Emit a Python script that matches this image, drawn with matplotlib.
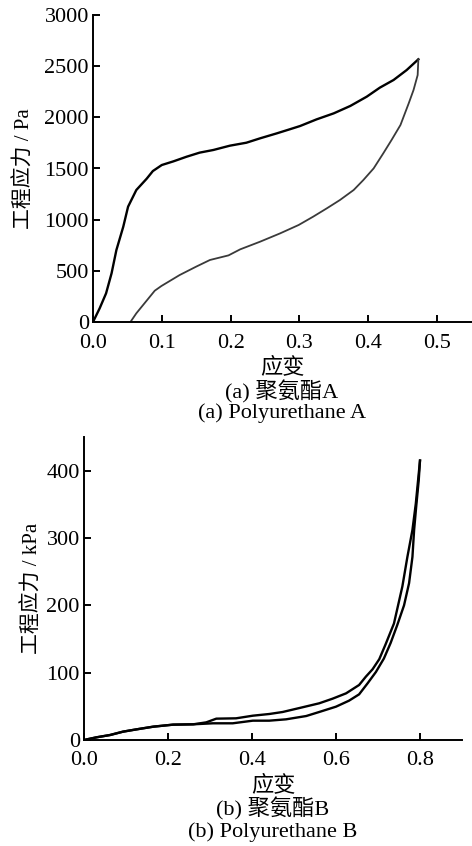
import matplotlib
matplotlib.use("Agg")
import matplotlib.pyplot as plt

plt.rcParams['font.family'] = ['Liberation Serif', 'Noto Sans CJK SC']
plt.rcParams['axes.unicode_minus'] = False

# ---- Panel (a): Polyurethane A (stress in Pa) ----
a_load_strain = [0.0, 0.0097, 0.019, 0.027, 0.034, 0.044, 0.051, 0.063, 0.078, 0.087, 0.100,
                 0.117, 0.136, 0.155, 0.175, 0.199, 0.223, 0.243, 0.267, 0.286, 0.301, 0.325,
                 0.350, 0.374, 0.398, 0.417, 0.437, 0.456, 0.473]
a_load_stress = [0, 134, 280, 476, 703, 931, 1127, 1290, 1400, 1475, 1534,
                 1570, 1615, 1655, 1681, 1723, 1752, 1795, 1843, 1883, 1915, 1980,
                 2039, 2111, 2202, 2290, 2365, 2462, 2567]
a_unload_strain = [0.473, 0.472, 0.466, 0.459, 0.447, 0.434, 0.422, 0.408, 0.393, 0.379, 0.359,
                   0.340, 0.320, 0.299, 0.272, 0.243, 0.214, 0.197, 0.170, 0.150, 0.126,
                   0.0995, 0.0898, 0.063, 0.0544]
a_unload_stress = [2567, 2413, 2267, 2137, 1925, 1778, 1648, 1501, 1387, 1290, 1192,
                   1111, 1029, 948, 866, 785, 710, 651, 606, 541, 459,
                   352, 306, 85, 0]
a_xticks = [0.0, 0.1, 0.2, 0.3, 0.4, 0.5]
a_xticklabels = ["0.0", "0.1", "0.2", "0.3", "0.4", "0.5"]
a_yticks = [0, 500, 1000, 1500, 2000, 2500, 3000]

# ---- Panel (b): Polyurethane B (stress in kPa) ----
b_load_strain = [0.0, 0.030, 0.062, 0.093, 0.125, 0.165, 0.212, 0.260, 0.291, 0.315, 0.362,
                 0.402, 0.441, 0.473, 0.513, 0.560, 0.592, 0.624, 0.655, 0.671, 0.687,
                 0.703, 0.718, 0.738, 0.758, 0.770, 0.782, 0.790, 0.800]
b_load_stress = [0, 4, 7.4, 12.4, 15.8, 19.8, 22.8, 23.3, 26.2, 31.7, 32.2,
                 36.1, 38.6, 41.6, 47.5, 54.5, 61.4, 69.3, 81.7, 94, 105,
                 120, 142, 173, 228, 272, 312, 351, 415]
b_unload_strain = [0.800, 0.797, 0.791, 0.786, 0.782, 0.774, 0.762, 0.746, 0.730, 0.714, 0.695,
                   0.675, 0.655, 0.631, 0.600, 0.560, 0.529, 0.481, 0.441, 0.402, 0.354,
                   0.307, 0.260, 0.212, 0.165, 0.125, 0.093, 0.062, 0.030, 0.0]
b_unload_stress = [415, 386, 347, 312, 272, 233, 200, 171, 144, 121, 101,
                   84, 67.8, 58.4, 49.5, 41.6, 35.6, 30.7, 28.7, 28.7, 24.8,
                   24.8, 23.3, 22.8, 19.8, 15.8, 12.4, 7.4, 4, 0]
b_xticks = [0.0, 0.2, 0.4, 0.6, 0.8]
b_xticklabels = ["0.0", "0.2", "0.4", "0.6", "0.8"]
b_yticks = [0, 100, 200, 300, 400]

W, H = 472, 846
fig = plt.figure(figsize=(W / 100, H / 100), dpi=100)
fig.patch.set_facecolor('white')

FS = 16


def style(ax, xpad):
    for s in ['top', 'right']:
        ax.spines[s].set_visible(False)
    for s in ['left', 'bottom']:
        ax.spines[s].set_linewidth(1.4)
    ax.tick_params(direction='in', length=5, width=1.4, labelsize=FS)
    ax.tick_params(axis='y', pad=3)
    ax.tick_params(axis='x', pad=xpad)


# Panel (a)
axA = fig.add_axes([93 / W, 1 - 322 / H, (472 - 93) / W, (322 - 15) / H])
axA.plot(a_load_strain, a_load_stress, color='black', lw=1.7)
axA.plot(a_unload_strain, a_unload_stress, color='#3a3a3a', lw=1.3)
axA.set_xlim(0, 0.551)
axA.set_ylim(0, 3000)
axA.set_xticks(a_xticks)
axA.set_xticklabels(a_xticklabels)
axA.set_yticks(a_yticks)
style(axA, 8.5)

fig.text(25 / W, 1 - 169 / H, "工程应力 / Pa", rotation=90, ha='center', va='center', fontsize=15)
fig.text(282 / W, 1 - 368 / H, "应变", ha='center', va='center', fontsize=FS)
fig.text(282 / W, 1 - 392 / H, "(a) 聚氨酯A", ha='center', va='center', fontsize=FS)
fig.text(282 / W, 1 - 413 / H, "(a) Polyurethane A", ha='center', va='center', fontsize=FS)

# Panel (b)
axB = fig.add_axes([84 / W, 1 - 740 / H, (462 - 84) / W, (740 - 437) / H])
axB.plot(b_load_strain, b_load_stress, color='black', lw=1.7)
axB.plot(b_unload_strain, b_unload_stress, color='black', lw=1.7)
axB.set_xlim(0, 0.9)
axB.set_ylim(0, 450)
axB.set_xticks(b_xticks)
axB.set_xticklabels(b_xticklabels)
axB.set_yticks(b_yticks)
style(axB, 8)

fig.text(33 / W, 1 - 588 / H, "工程应力 / kPa", rotation=90, ha='center', va='center', fontsize=15)
fig.text(273 / W, 1 - 786 / H, "应变", ha='center', va='center', fontsize=FS)
fig.text(273 / W, 1 - 809 / H, "(b) 聚氨酯B", ha='center', va='center', fontsize=FS)
fig.text(273 / W, 1 - 832 / H, "(b) Polyurethane B", ha='center', va='center', fontsize=FS)

fig.savefig("out.png", dpi=100, facecolor='white')
